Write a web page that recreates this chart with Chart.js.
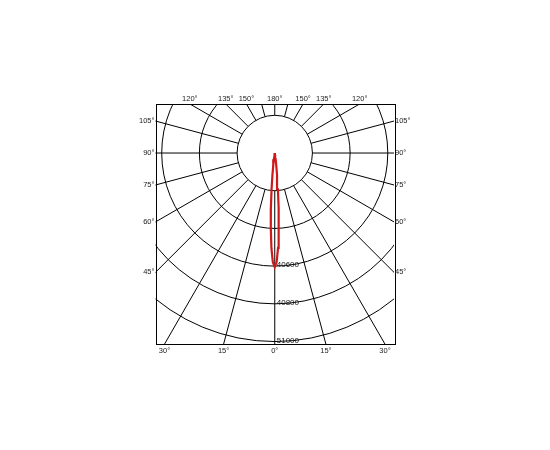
<!DOCTYPE html>
<html>
<head>
<meta charset="utf-8">
<script src="https://cdn.jsdelivr.net/npm/chart.js@4.4.1/dist/chart.umd.min.js"></script>
<style>
    html, body { margin: 0; padding: 0; background: #fff; }
</style>
</head>
<body>
<canvas id="chart" width="550" height="450"></canvas>
<script>
// beam angles (deg, 0 = straight down) and intensity
const lobeAngles = [-12, -11, -10, -9, -8, -7, -6, -5, -4, -3, -2, -1, 0, 1, 2, 3, 4, 5, 6, 7, 8, 9, 10, 11, 12];
const lobeValues = [0, 2, 6, 15, 33, 65, 118, 195, 295, 400, 505, 580, 605, 578, 503, 402, 292, 193, 116, 64, 32, 14, 6, 2, 0];

// grid rings and labelled rings
const ringValues = [200, 400, 600, 800, 1000, 1200];
const ringLabelValues = [600, 800, 1000];
const ringLabelTexts = ['40600', '40800', '51000'];

// angle tick labels round the frame
const angleTicks = [0, 15, 30, 45, 60, 75, 90, 105, 120, 135, 150, 180];

const toRad = d => d * Math.PI / 180;

const lobePoints = lobeAngles.map((a, i) => ({
    x: lobeValues[i] * Math.sin(toRad(a)),
    y: -lobeValues[i] * Math.cos(toRad(a))
}));

const polarGrid = {
    id: 'polarGrid',
    beforeDatasetsDraw(chart) {
        const {ctx, chartArea: area, scales: {x, y}} = chart;
        const cx = x.getPixelForValue(0), cy = y.getPixelForValue(0);
        const kx = Math.abs(x.getPixelForValue(1000) - cx) / 1000;
        const ky = Math.abs(y.getPixelForValue(1000) - cy) / 1000;

        ctx.save();
        ctx.beginPath();
        ctx.rect(area.left, area.top, area.right - area.left, area.bottom - area.top);
        ctx.clip();
        ctx.strokeStyle = '#000';
        ctx.lineWidth = 1;
        ringValues.forEach(v => {
            ctx.beginPath();
            ctx.ellipse(cx, cy, v * kx, v * ky, 0, 0, Math.PI * 2);
            ctx.stroke();
        });
        // spokes every 15 deg, starting on the first ring
        for (let a = 0; a < 360; a += 15) {
            const t = toRad(a);
            ctx.beginPath();
            ctx.moveTo(cx + Math.sin(t) * ringValues[0] * kx, cy + Math.cos(t) * ringValues[0] * ky);
            ctx.lineTo(cx + Math.sin(t) * 3000 * kx, cy + Math.cos(t) * 3000 * ky);
            ctx.stroke();
        }
        ctx.restore();

        ctx.save();
        ctx.strokeStyle = '#000';
        ctx.lineWidth = 1;
        ctx.strokeRect(Math.round(area.left) + 0.5, Math.round(area.top) + 0.5,
            Math.round(area.right - area.left), Math.round(area.bottom - area.top));
        ctx.restore();
    },
    afterDraw(chart) {
        const {ctx, chartArea: area, scales: {x, y}} = chart;
        const cx = x.getPixelForValue(0), cy = y.getPixelForValue(0);
        const ky = Math.abs(y.getPixelForValue(1000) - cy) / 1000;

        ctx.save();
        ctx.font = '7.5px "Liberation Sans", Arial, sans-serif';
        ctx.fillStyle = '#222';
        angleTicks.forEach(a => {
            const sides = (a === 0 || a === 180) ? [1] : [-1, 1];
            sides.forEach(s => {
                const dx = Math.sin(toRad(a)) * s, dy = Math.cos(toRad(a));
                const tx = Math.abs(dx) < 1e-9 ? Infinity : (dx > 0 ? (area.right - cx) / dx : (area.left - cx) / dx);
                const ty = Math.abs(dy) < 1e-9 ? Infinity : (dy > 0 ? (area.bottom - cy) / dy : (area.top - cy) / dy);
                const label = a + '°';
                if (tx < ty) {
                    ctx.textBaseline = 'middle';
                    ctx.textAlign = dx > 0 ? 'left' : 'right';
                    ctx.fillText(label, dx > 0 ? area.right + 1 : area.left - 1, cy + dy * tx);
                } else {
                    ctx.textAlign = 'center';
                    ctx.textBaseline = 'middle';
                    ctx.fillText(label, cx + dx * ty, dy > 0 ? area.bottom + 7 : area.top - 5);
                }
            });
        });

        ctx.font = '8px "Liberation Sans", Arial, sans-serif';
        ctx.fillStyle = '#111';
        ctx.textAlign = 'left';
        ctx.textBaseline = 'alphabetic';
        ringLabelValues.forEach((v, i) => {
            ctx.fillText(ringLabelTexts[i], cx + 2, cy + v * ky + 1);
        });
        ctx.restore();
    }
};

const ctx = document.getElementById('chart').getContext('2d');
const myChart = new Chart(ctx, {
    type: 'scatter',
    data: {
        datasets: [{
            data: lobePoints,
            showLine: true,
            borderColor: 'rgb(205, 25, 25)',
            backgroundColor: 'rgb(205, 25, 25)',
            borderWidth: 2.2,
            pointRadius: 0,
            tension: 0
        }]
    },
    options: {
        responsive: false,
        animation: false,
        layout: {
            padding: {left: 155.5, right: 156, top: 104, bottom: 106}
        },
        plugins: {
            legend: {display: false},
            tooltip: {enabled: false}
        },
        scales: {
            x: {display: false, min: -633, max: 633},
            y: {display: false, min: -1013, max: 260}
        }
    },
    plugins: [polarGrid]
});
</script>
</body>
</html>
